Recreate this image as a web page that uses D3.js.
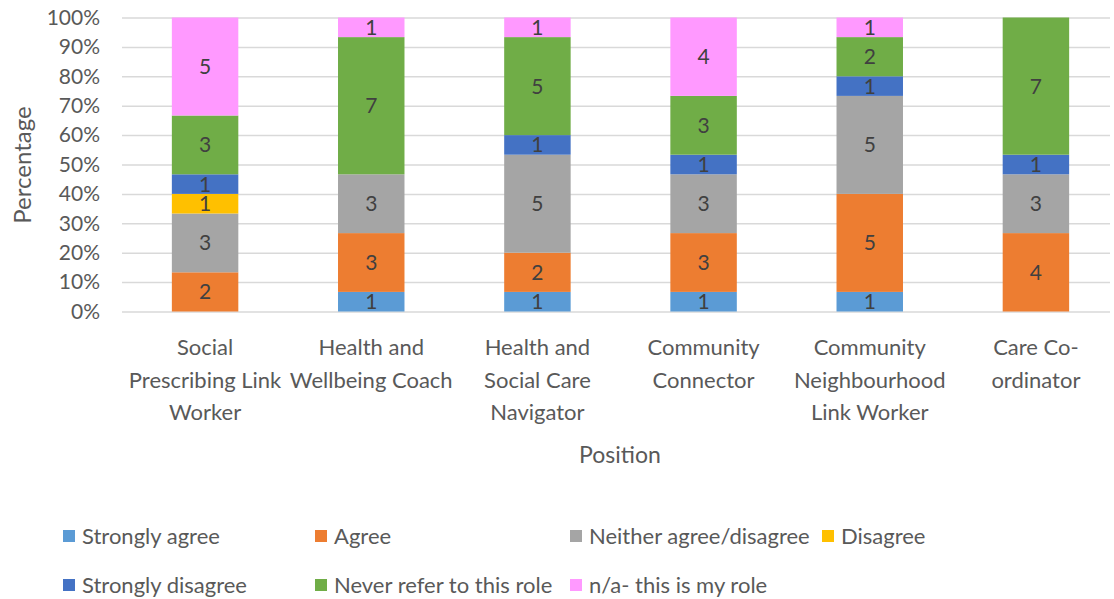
<!DOCTYPE html>
<html>
<head>
<meta charset="utf-8">
<script src="https://cdn.jsdelivr.net/npm/d3@7"></script>
<style>
  body { margin: 0; background: #fff; }
  svg text { font-family: Lato, "Open Sans", sans-serif; fill: #595959; }
</style>
</head>
<body>
<svg id="chart" width="1114" height="599"></svg>
<script>
// positions (x categories), split onto lines like the original
const positions = [
  ["Social", "Prescribing Link", "Worker"],
  ["Health and", "Wellbeing Coach"],
  ["Health and", "Social Care", "Navigator"],
  ["Community", "Connector"],
  ["Community", "Neighbourhood", "Link Worker"],
  ["Care Co-", "ordinator"]
];

const responses = ["Strongly agree", "Agree", "Neither agree/disagree", "Disagree",
  "Strongly disagree", "Never refer to this role", "n/a- this is my role"];
const colors = ["#5B9BD5", "#ED7D31", "#A5A5A5", "#FFC000", "#4472C4", "#70AD47", "#FF99FF"];

// counts per position, in the response order above
const stronglyAgree    = [0, 1, 1, 1, 1, 0];
const agree            = [2, 3, 2, 3, 5, 4];
const neither          = [3, 3, 5, 3, 5, 3];
const disagree         = [1, 0, 0, 0, 0, 0];
const stronglyDisagree = [1, 0, 1, 1, 1, 1];
const neverRefer       = [3, 7, 5, 3, 2, 7];
const myRole           = [5, 1, 1, 4, 1, 0];

const yTicks = [0, 0.1, 0.2, 0.3, 0.4, 0.5, 0.6, 0.7, 0.8, 0.9, 1];

const seriesValues = [stronglyAgree, agree, neither, disagree, stronglyDisagree, neverRefer, myRole];
const rows = positions.map((p, i) => {
  const r = { key: i };
  responses.forEach((s, j) => r[s] = seriesValues[j][i]);
  return r;
});

const svg = d3.select("#chart");
const plotLeft = 122, plotRight = 1119, plotTop = 17.5, plotBottom = 311.5;

const x = d3.scaleBand().domain(d3.range(positions.length)).range([plotLeft, plotRight]).paddingInner(0.6).paddingOuter(0.3);
const y = d3.scaleLinear().domain([0, 1]).range([plotBottom, plotTop]);

const stack = d3.stack().keys(responses).offset(d3.stackOffsetExpand);
const series = stack(rows);

// gridlines + y axis
const yAxis = svg.append("g")
  .attr("transform", `translate(${plotLeft},0)`)
  .call(d3.axisLeft(y).tickValues(yTicks).tickFormat(d3.format(".0%")).tickSize(-(1110 - plotLeft)).tickPadding(22));
yAxis.select(".domain").remove();
yAxis.selectAll(".tick line").attr("stroke", "#d9d9d9").attr("stroke-width", 1.5);
yAxis.selectAll(".tick text").attr("font-size", 21).style("fill", "#595959");

// bars
const groups = svg.append("g").selectAll("g")
  .data(series)
  .join("g")
    .attr("fill", (d, i) => colors[i]);

groups.selectAll("rect")
  .data(d => d)
  .join("rect")
    .attr("x", (d, i) => x(i))
    .attr("y", d => y(d[1]))
    .attr("width", x.bandwidth())
    .attr("height", d => y(d[0]) - y(d[1]));

// counts inside segments
series.forEach((s, j) => {
  svg.append("g").selectAll("text")
    .data(s.filter(d => d.data[s.key] > 0))
    .join("text")
      .attr("x", d => x(d.data.key) + x.bandwidth() / 2)
      .attr("y", d => y((d[0] + d[1]) / 2))
      .attr("dy", "0.36em")
      .attr("text-anchor", "middle")
      .attr("font-size", 21)
      .style("fill", "#404040")
      .text(d => d.data[s.key]);
});

// x labels
positions.forEach((lines, i) => {
  const t = svg.append("text")
    .attr("x", x(i) + x.bandwidth() / 2)
    .attr("y", 355)
    .attr("text-anchor", "middle")
    .attr("font-size", 22);
  lines.forEach((l, k) => t.append("tspan")
    .attr("x", x(i) + x.bandwidth() / 2)
    .attr("dy", k === 0 ? 0 : 32.5)
    .text(l));
});

// axis titles
svg.append("text")
  .attr("x", 620).attr("y", 463)
  .attr("text-anchor", "middle")
  .attr("font-size", 23)
  .text("Position");

svg.append("text")
  .attr("transform", "translate(31,165) rotate(-90)")
  .attr("text-anchor", "middle")
  .attr("font-size", 24)
  .text("Percentage");

// legend
const legendX = [63, 315, 570, 822];
const legend = svg.append("g").selectAll("g")
  .data(responses)
  .join("g")
    .attr("transform", (d, i) => `translate(${legendX[i % 4]},${i < 4 ? 536 : 585})`);
legend.append("rect")
  .attr("y", -6).attr("width", 12).attr("height", 12)
  .attr("fill", (d, i) => colors[i]);
legend.append("text")
  .attr("x", 19).attr("dy", "0.36em")
  .attr("font-size", 22)
  .text(d => d);
</script>
</body>
</html>
